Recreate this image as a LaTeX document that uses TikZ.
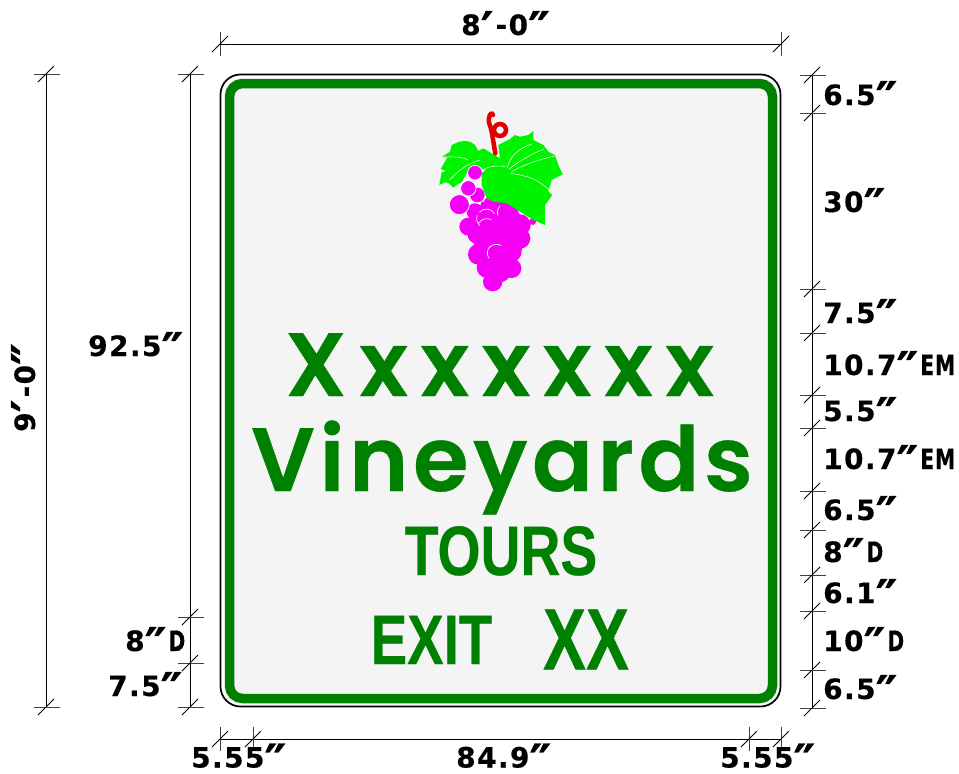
\documentclass[tikz,border=0pt]{standalone}
\usepackage{fontspec}
\setmainfont{Liberation Sans}
\newfontfamily\dimfont[LetterSpace=5,FakeBold=0.4]{DejaVu Sans Bold}
\newfontfamily\plainfont[FakeBold=0.4]{DejaVu Sans Bold}
\newfontfamily\signfont[LetterSpace=14,FakeBold=0.35]{Poppins SemiBold}
\newfontfamily\signfontv[LetterSpace=5,FakeBold=0.35]{Poppins SemiBold}
\newfontfamily\signfontb[FakeBold=0.4]{Liberation Sans Bold}
\definecolor{signgreen}{HTML}{008000}
\definecolor{signbg}{HTML}{F4F4F4}
\definecolor{grape}{HTML}{F400F4}
\definecolor{leaf}{HTML}{00F400}
\definecolor{stem}{HTML}{E00000}
\tikzset{
 x=1pt,y=-1pt,
 dimline/.style={draw=black,line width=0.7pt},
 tick/.style={draw=black!75,line width=0.9pt},
 slash/.style={draw=black,line width=0.8pt},
 dimlabel/.style={font=\dimfont\fontsize{28}{28}\selectfont,text=black,inner sep=0pt,anchor=base west},
 signlabel/.style={text=signgreen,inner sep=0pt,anchor=base},
 grapeball/.style={fill=grape,draw=white,line width=0.7pt},
 grapeline/.style={draw=white,line width=0.7pt},
 vein/.style={draw=white,line width=0.5pt},
}
\newcommand{\dq}{\smash{\raisebox{-0.42em}{\scalebox{1.75}{\plainfont ″}}}\kern2pt}
\newcommand{\sq}{\smash{\raisebox{-0.42em}{\scalebox{1.75}{\plainfont ′}}}\kern2pt}
\newcommand{\nEM}{\scalebox{0.72}[1]{EM}}
\newcommand{\nD}{\scalebox{0.72}[1]{D}}
\newcommand{\hmark}[2]{%
 \draw[tick] (#1-12,#2) -- (#1+14,#2);
 \draw[slash] (#1-8,#2+8) -- (#1+8,#2-8);}
\newcommand{\vmark}[2]{%
 \draw[tick] (#1,#2-12) -- (#1,#2+12);
 \draw[slash] (#1-8,#2+8) -- (#1+8,#2-8);}
\begin{document}
\begin{tikzpicture}
\useasboundingbox (0,0) rectangle (959,774);
\fill[white] (0,0) rectangle (959,774);
% sign
\draw[black,line width=1.7pt,fill=white,rounded corners=20pt] (220.5,74.5) rectangle (780.5,706.5);
\draw[signgreen,line width=9.5pt,fill=signbg,rounded corners=13pt] (229.5,83.5) rectangle (772.5,698.5);
% grapes
\begin{scope}[shift={(420,95)},x=0.3333pt,y=-0.3333pt]
 \fill[leaf] (58,270)--(65,232)--(78,228)--(62,222)--(72,205)--(82,188)--(66,185)--(90,170)--(95,150)--(118,140)--(135,138)--(150,140)--(165,150)--(175,168)--(190,160)--(215,175)--(240,190)--(255,215)--(190,225)--(150,215)--(125,262)--(112,268)--(100,278)--(85,264)--(75,262)--cycle;
 \draw[vein] (70,186) .. controls (100,185) and (125,185) .. (145,195);
 \draw[vein] (88,255) .. controls (110,235) and (130,210) .. (180,195);
 \fill[grape] (185,320)--(290,340)--(320,400)--(320,430)--(285,510)--(240,545)--(200,520)--(165,470)--(155,410)--cycle;
 \foreach \a/\b/\r in {172/300/22,215/330/26,240/325/15,165/350/25,145/395/27,168/420/25,205/435/28,248/405/30,300/390/32,300/430/31,270/435/24,175/478/31,275/470/30,200/518/30,240/530/32,275/520/29,218/560/29}
  \fill[grape] (\a,\b) circle[radius=\r];
 \foreach \a/\b/\r in {165/233/22,145/280/23,118/329/30}
  \draw[grapeball] (\a,\b) circle[radius=\r];
 \fill[grape] (200,370) circle[radius=28] (260,352) circle[radius=28] (230,476) circle[radius=28];
 \draw[grapeline] (178,352) arc[start angle=220,end angle=330,radius=28];
 \draw[grapeline] (180,392) arc[start angle=130,end angle=200,radius=28];
 \draw[grapeline] (176,385) arc[start angle=210,end angle=300,radius=28];
 \draw[grapeline] (234,362) arc[start angle=160,end angle=225,radius=28];
 \draw[grapeline] (207,490) arc[start angle=145,end angle=225,radius=28];
 \draw[grapeline] (208,458) arc[start angle=220,end angle=300,radius=28];
 \fill[grape] (338,380) circle[radius=10];
 \fill[leaf] (235,150)--(270,132)--(285,120)--(300,125)--(325,120)--(340,108)--(340,135)--(370,150)--(385,170)--(405,180)--(415,210)--(428,238)--(395,255)--(385,290)--(397,300)--(375,330)--(375,390)--(340,375)--(300,350)--(260,325)--(220,320)--(200,310)--(185,270)--(185,235)--(210,215)--(255,215)--(240,190)--cycle;
 \draw[vein] (262,218) .. controls (270,180) and (300,160) .. (335,147);
 \draw[vein] (268,222) .. controls (300,195) and (340,175) .. (372,162);
 \draw[vein] (275,230) .. controls (320,205) and (370,190) .. (405,183);
 \draw[vein] (272,236) .. controls (320,240) and (360,255) .. (392,290);
 \draw[vein] (185,225) .. controls (205,215) and (230,210) .. (255,215);
 \draw[stem,line width=4.5pt,line cap=round] (226,175) -- (216,115) .. controls (212,90) and (204,85) .. (207,70) .. controls (209,55) and (216,52) .. (219,60);
 \draw[stem,line width=4.5pt] (240,105) circle[radius=18];
\end{scope}
% sign text
\node[signlabel,font=\signfont\fontsize{90}{90}\selectfont] (t1) at (499.5,396) {Xxxxxxx};
\node[signlabel,font=\signfontv\fontsize{90}{90}\selectfont] (t2) at (502,491) {Vineyards};
\node[signlabel,font=\signfontb\fontsize{70}{70}\selectfont] (t3) at (501,575) {\scalebox{0.79}[1]{TOURS}};
\node[signlabel,font=\signfontb\fontsize{70}{70}\selectfont] (t4) at (431.5,664) {\scalebox{0.78}[1]{EXIT}};
\node[signlabel,font=\signfontb\fontsize{87}{87}\selectfont] (t5) at (586,669.5) {\scalebox{0.74}[1]{XX}};
% dims: top
\coordinate (topL) at (220,44); \coordinate (topR) at (781,44);
\draw[dimline] (topL) -- (topR);
\vmark{220}{44}\vmark{781}{44}
\node[dimlabel] (d0) at (461,35) {8\sq-0\dq};
% left
\coordinate (lT) at (46,74); \coordinate (lB) at (46,707);
\draw[dimline] (lT) -- (lB);
\hmark{46}{74}\hmark{46}{707}
\node[dimlabel,rotate=90] (d1) at (35,432) {9\sq-0\dq};
% second
\coordinate (mT) at (190,74); \coordinate (mB) at (190,707);
\draw[dimline] (mT) -- (mB);
\foreach \y in {74,617,663,707} {\hmark{190}{\y}}
\node[dimlabel] (d2) at (88,356) {92.5\dq};
\node[dimlabel] (d3) at (125,651) {8\dq \nD};
\node[dimlabel] (d4) at (108,696) {7.5\dq};
% right
\coordinate (rT) at (812,75); \coordinate (rB) at (812,708);
\draw[dimline] (rT) -- (rB);
\foreach \y in {75,113,289,333,395,428,491,530,575,611,670,708} {\hmark{812}{\y}}
\foreach \y/\t in {105/6.5\dq,212/30\dq,323/7.5\dq,375/10.7\dq \nEM,421/5.5\dq,469/10.7\dq \nEM,520/6.5\dq,562/8\dq \nD,603/6.1\dq,651/10\dq \nD,699/6.5\dq}
 \node[dimlabel] at (823,\y) {\t};
% bottom
\coordinate (bL) at (220,739); \coordinate (bR) at (781,739);
\draw[dimline] (bL) -- (bR);
\foreach \x in {220,253,749,781} {\vmark{\x}{739}}
\node[dimlabel] (d5) at (191,767.5) {5.55\dq};
\node[dimlabel] (d6) at (456,767.5) {84.9\dq};
\node[dimlabel] (d7) at (720,767.5) {5.55\dq};
\end{tikzpicture}
\end{document}
